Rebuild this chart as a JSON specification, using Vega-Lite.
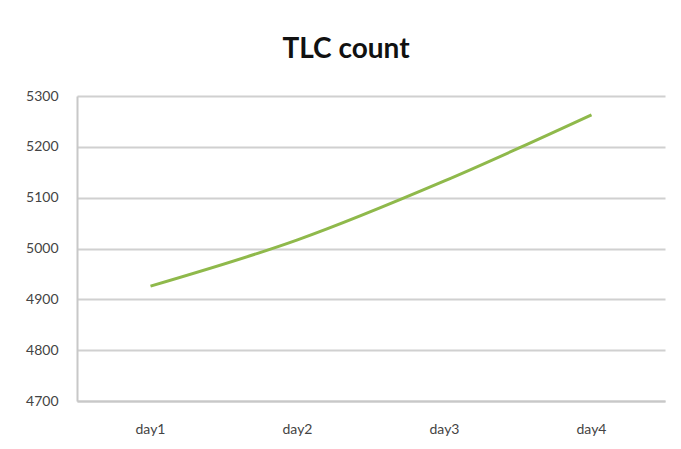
{
  "$schema": "https://vega.github.io/schema/vega-lite/v6.json",
  "autosize": "none",
  "width": 588,
  "height": 305,
  "padding": {"left": 77, "top": 96, "right": 16, "bottom": 48},
  "background": "white",
  "title": {
    "text": "TLC count",
    "font": "Lato",
    "fontSize": 28,
    "fontWeight": "bold",
    "color": "#111111",
    "anchor": "middle",
    "frame": "group",
    "dx": -25,
    "offset": 25
  },
  "data": {
    "values": [
      {"day": "day1", "count": 4926},
      {"day": "day2", "count": 5017},
      {"day": "day3", "count": 5133},
      {"day": "day4", "count": 5263}
    ]
  },
  "mark": {"type": "line", "color": "#8fb94b", "strokeWidth": 3, "interpolate": "monotone"},
  "encoding": {
    "x": {
      "field": "day",
      "type": "ordinal",
      "scale": {"type": "band", "paddingInner": 0, "paddingOuter": 0},
      "axis": {
        "title": null,
        "labelAngle": 0,
        "ticks": false,
        "labelPadding": 21,
        "labelFont": "Lato",
        "labelFontSize": 14,
        "labelColor": "#444444",
        "domainColor": "#c8c8c8",
        "domainWidth": 2,
        "grid": false
      }
    },
    "y": {
      "field": "count",
      "type": "quantitative",
      "scale": {"domain": [4700, 5300], "nice": false, "zero": false},
      "axis": {
        "title": null,
        "values": [4700, 4800, 4900, 5000, 5100, 5200, 5300],
        "format": "d",
        "ticks": false,
        "labelPadding": 19,
        "labelFont": "Lato",
        "labelFontSize": 14,
        "labelColor": "#444444",
        "domainColor": "#c8c8c8",
        "domainWidth": 2,
        "gridColor": "#d0d0d0",
        "gridWidth": 2
      }
    }
  },
  "config": {"view": {"stroke": null}}
}
